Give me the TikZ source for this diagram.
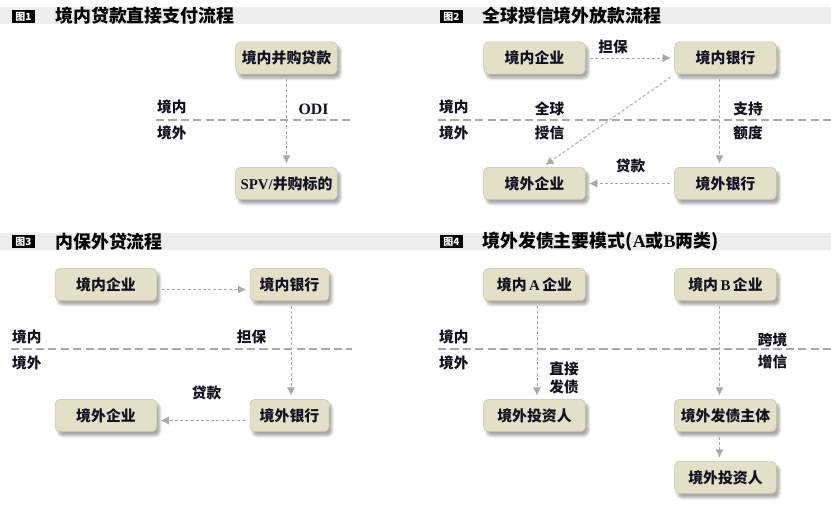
\documentclass[tikz,border=0pt]{standalone}
\usepackage{fontspec}
\setmainfont{Noto Sans CJK SC}
\newfontfamily\lat{Liberation Serif}
\usepackage{tikz}
\usetikzlibrary{arrows.meta}
\usetikzlibrary{calc}
\usetikzlibrary{shadows.blur}
\definecolor{boxfill}{HTML}{E3E0C7}
\definecolor{boxline}{HTML}{C6C3AE}
\definecolor{barfill}{HTML}{EDEDED}
\definecolor{linegray}{HTML}{A9A9A9}
\definecolor{inkblue}{HTML}{101020}
\tikzstyle{block} = [draw=boxline,fill=boxfill,rounded corners=4pt,minimum width=3.05cm,minimum height=0.97cm,font=\fontsize{12.7}{14}\selectfont\bfseries,text=inkblue,blur shadow={shadow xshift=2.5pt,shadow yshift=-3.5pt,shadow blur steps=6,shadow opacity=35}]
\tikzstyle{nblock} = [block,minimum width=2.37cm]
\tikzstyle{lbl} = [font=\fontsize{12.5}{14}\selectfont\bfseries,text=inkblue,inner sep=0pt]
\tikzstyle{conn} = [->,draw=linegray,line width=0.8pt,dash pattern=on 2.6pt off 1.8pt,shorten <=4pt,shorten >=3pt]
\tikzstyle{divider} = [draw=linegray,line width=2.1pt,dash pattern=on 7pt off 3.6pt]
\tikzstyle{icon} = [fill=black,text=white,inner sep=0pt,minimum width=0.69cm,minimum height=0.39cm,font=\fontsize{8.5}{9}\selectfont\bfseries]
\tikzstyle{title} = [anchor=west,inner sep=0pt,font=\fontsize{15.3}{17}\selectfont\bfseries,text=black]

\begin{document}
\begin{tikzpicture}[x=0.03cm,y=-0.03cm,>={Latex[length=7pt,width=7pt]}]
\useasboundingbox (0,0) rectangle (831,509);

% title bars
    \foreach \y in {16,241.5} {
        \fill[barfill] (0,\y-8.5) rectangle (831,\y+8.5);
    }
    \node[icon] at (23.5,16.5) (icon1) {图1};
    \node[icon] at (451.5,16.5) (icon2) {图2};
    \node[icon] at (23.5,241.5) (icon3) {图3};
    \node[icon] at (451.5,241.5) (icon4) {图4};
    \node[title] at (55,16) (title1) {境内贷款直接支付流程};
    \node[title] at (482,16) (title2) {全球授信境外放款流程};
    \node[title] at (55,241.5) (title3) {内保外贷流程};
    \node[title] at (482,241.5) (title4) {境外发债主要模式({\lat A}或{\lat B}两类)};

% border lines and their labels
    \draw[divider] (156,120) -- (352,120);
    \draw[divider] (438,120) -- (831,120);
    \draw[divider] (11,349) -- (352,349);
    \draw[divider] (438,349) -- (831,349);
    \foreach \x/\y/\n in {157/107/a, 439/107/b, 12/337/c, 439/337/d} {
        \node[lbl,anchor=west] at (\x,\y) (in\n) {境内};
        \node[lbl,anchor=west] at (\x,\y+26) (out\n) {境外};
    }

% figure 1
    \node[block] at (286.5,58) (loan) {境内并购贷款};
    \node[block] at (286.5,183.5) (spv) {{\lat SPV/}并购标的};
    \node[lbl] at (313.5,109) (odi) {\lat\fontsize{13.5}{14}\selectfont ODI};
    \draw[conn] (loan) -- (spv);

% figure 2
    \node[block] at (534.5,58) (dcorp) {境内企业};
    \node[block] at (725.5,58) (dbank) {境内银行};
    \node[block] at (534.5,183.5) (fcorp) {境外企业};
    \node[block] at (725.5,183.5) (fbank) {境外银行};
    \node[lbl] at (613,47) (guar) {担保};
    \node[lbl] at (549.5,109) (glob1) {全球};
    \node[lbl] at (549.5,133) (glob2) {授信};
    \node[lbl] at (748,109) (quota1) {支持};
    \node[lbl] at (748,133) (quota2) {额度};
    \node[lbl] at (630.5,166) (lend) {贷款};
    \draw[conn] (dcorp) -- (dbank);
    \draw[conn] (dbank.south west) -- ($(fcorp.north)+(8,0)$);
    \draw[conn] ($(dbank.south)+(-6,0)$) -- ($(fbank.north)+(-6,0)$);
    \draw[conn] (fbank) -- (fcorp);

% figure 3
    \node[block] at (106,284.5) (kcorp) {境内企业};
    \node[nblock] at (289.5,284.5) (kbank) {境内银行};
    \node[block] at (106,415.5) (wcorp) {境外企业};
    \node[nblock] at (289.5,415.5) (wbank) {境外银行};
    \node[lbl] at (251.5,337) (guar3) {担保};
    \node[lbl] at (206.5,393) (lend3) {贷款};
    \draw[conn] ($(kcorp.east)+(0,5)$) -- ($(kbank.west)+(0,5)$);
    \draw[conn] ($(kbank.south)+(1.5,0)$) -- ($(wbank.north)+(1.5,0)$);
    \draw[conn] ($(wbank.west)+(0,5)$) -- ($(wcorp.east)+(0,5)$);

% figure 4
    \node[block] at (534.5,284.5) (acorp) {境内{\lat\,A\,}企业};
    \node[block] at (725.5,284.5) (bcorp) {境内{\lat\,B\,}企业};
    \node[block] at (534.5,415.5) (ainv) {境外投资人};
    \node[block] at (725.5,415.5) (issuer) {境外发债主体};
    \node[block] at (725.5,477.5) (binv) {境外投资人};
    \node[lbl] at (564,369) (direct1) {直接};
    \node[lbl] at (564,387) (direct2) {发债};
    \node[lbl] at (772.5,340) (cross1) {跨境};
    \node[lbl] at (772.5,362) (cross2) {增信};
    \draw[conn] ($(acorp.south)+(2.5,0)$) -- ($(ainv.north)+(2.5,0)$);
    \draw[conn] ($(bcorp.south)+(-6,0)$) -- ($(issuer.north)+(-6,0)$);
    \draw[conn] ($(issuer.south)+(-6,0)$) -- ($(binv.north)+(-6,0)$);

\end{tikzpicture}
\end{document}
